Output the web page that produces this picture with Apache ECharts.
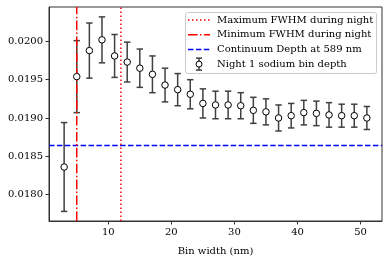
<!DOCTYPE html>
<html>
<head>
<meta charset="utf-8">
<script src="https://cdn.jsdelivr.net/npm/echarts@6/dist/echarts.min.js"></script>
<style>html,body{margin:0;padding:0;background:#fff}#c{width:389px;height:261px}</style>
</head>
<body>
<div id="c"></div>
<script>
const binWidth = [3,5,7,9,11,13,15,17,19,21,23,25,27,29,31,33,35,37,39,41,43,45,47,49,51];
const depth = [0.01836,0.01954,0.01988,0.02002,0.01981,0.01973,0.01965,0.01957,0.01943,0.01937,0.01931,0.01919,0.01917,0.01917,0.01916,0.01910,0.01908,0.01900,0.01903,0.01907,0.01906,0.01904,0.01903,0.01903,0.01900];
const depthErr = [0.00058,0.00047,0.00036,0.00030,0.00028,0.00026,0.00025,0.00024,0.00022,0.00021,0.00019,0.00019,0.00018,0.00018,0.00017,0.00017,0.00017,0.00017,0.00016,0.00016,0.00016,0.00016,0.00015,0.00015,0.00015];
const continuumDepth = 0.01864;
const minFWHM = 5;
const maxFWHM = 12;
const xRange = [0.6, 53.4];
const yRange = [0.017655, 0.020449];
const xTicks = [10,20,30,40,50];
const yTicks = [0.0180,0.0185,0.0190,0.0195,0.0200];
const legendLabels = ['Maximum FWHM during night','Minimum FWHM during night','Continuum Depth at 589 nm','Night 1 sodium bin depth'];

const FONT = 'DejaVu Serif';
const ecol = '#404040';
const chart = echarts.init(document.getElementById('c'), null, {renderer:'canvas'});

const data = binWidth.map((x,i)=>[x, depth[i], depthErr[i]]);

const lx0 = 188, lx1 = 210, ltx = 217, ly0 = 20, ldy = 14.7;
const legendGraphics = [
  {type:'rect', shape:{x:185.5,y:12.5,width:191,height:61,r:2}, style:{fill:'rgba(255,255,255,0.8)', stroke:'#cccccc', lineWidth:1}, z:100},
  {type:'line', shape:{x1:lx0,y1:ly0,x2:lx1,y2:ly0}, style:{stroke:'#ff0000', lineWidth:1.5, lineDash:[1.5,2.5]}, z:101},
  {type:'line', shape:{x1:lx0,y1:ly0+ldy,x2:lx1,y2:ly0+ldy}, style:{stroke:'#ff0000', lineWidth:1.5, lineDash:[9.6,2.4,1.5,2.4]}, z:101},
  {type:'line', shape:{x1:lx0,y1:ly0+2*ldy,x2:lx1,y2:ly0+2*ldy}, style:{stroke:'#0000ff', lineWidth:1.5, lineDash:[5.5,2.4]}, z:101},
  {type:'line', shape:{x1:199,y1:ly0+3*ldy-6,x2:199,y2:ly0+3*ldy+6}, style:{stroke:ecol, lineWidth:1.5}, z:101},
  {type:'line', shape:{x1:196,y1:ly0+3*ldy-6,x2:202,y2:ly0+3*ldy-6}, style:{stroke:ecol, lineWidth:1.5}, z:101},
  {type:'line', shape:{x1:196,y1:ly0+3*ldy+6,x2:202,y2:ly0+3*ldy+6}, style:{stroke:ecol, lineWidth:1.5}, z:101},
  {type:'circle', shape:{cx:199,cy:ly0+3*ldy,r:3}, style:{fill:'#fff', stroke:'#000', lineWidth:1}, z:102}
];
legendLabels.forEach((t,i)=>{
  legendGraphics.push({type:'text', x:ltx, y:ly0+i*ldy, style:{text:t, font:'10px "DejaVu Serif"', fill:'#000', textVerticalAlign:'middle', textAlign:'left'}, z:103});
});

chart.setOption({
  animation:false,
  backgroundColor:'#fff',
  grid:{left:49, right:7, top:7, bottom:38, show:true, borderColor:'#333', borderWidth:1, containLabel:false},
  xAxis:{
    type:'value', min:xRange[0], max:xRange[1],
    name:'Bin width (nm)', nameLocation:'middle', nameGap:25,
    nameTextStyle:{fontFamily:FONT, fontSize:10, color:'#000'},
    axisLine:{show:true, onZero:false, lineStyle:{color:'#333', width:1}},
    axisTick:{show:true, length:3.5, customValues:xTicks, lineStyle:{color:'#333'}},
    axisLabel:{customValues:xTicks, fontFamily:FONT, fontSize:10, color:'#000', margin:6},
    splitLine:{show:false}
  },
  yAxis:{
    type:'value', min:yRange[0], max:yRange[1],
    axisLine:{show:true, onZero:false, lineStyle:{color:'#333', width:1}},
    axisTick:{show:true, length:3.5, customValues:yTicks, lineStyle:{color:'#333'}},
    axisLabel:{customValues:yTicks, fontFamily:FONT, fontSize:10, color:'#000', margin:6, formatter:v=>v.toFixed(4)},
    splitLine:{show:false}
  },
  series:[
    {
      type:'custom', name:'err', data:data, z:2,
      renderItem:(params, api)=>{
        const x=api.value(0), y=api.value(1), e=api.value(2);
        const t=api.coord([x,y+e]), b=api.coord([x,y-e]);
        const c=3.2;
        const st={stroke:ecol, lineWidth:1.5};
        return {type:'group', children:[
          {type:'line', shape:{x1:t[0],y1:t[1],x2:b[0],y2:b[1]}, style:st},
          {type:'line', shape:{x1:t[0]-c,y1:t[1],x2:t[0]+c,y2:t[1]}, style:st},
          {type:'line', shape:{x1:b[0]-c,y1:b[1],x2:b[0]+c,y2:b[1]}, style:st}
        ]};
      }
    },
    {
      type:'line', name:'Continuum Depth at 589 nm', z:3, symbol:'none', silent:true,
      data:[[xRange[0], continuumDepth],[xRange[1], continuumDepth]],
      lineStyle:{color:'#0000ff', width:1.5, type:[5.5,2.4]}
    },
    {
      type:'line', name:'Minimum FWHM during night', z:3, symbol:'none', silent:true,
      data:[[minFWHM, yRange[0]],[minFWHM, yRange[1]]],
      lineStyle:{color:'#ff0000', width:1.5, type:[9.6,2.4,1.5,2.4]}
    },
    {
      type:'line', name:'Maximum FWHM during night', z:3, symbol:'none', silent:true,
      data:[[maxFWHM, yRange[0]],[maxFWHM, yRange[1]]],
      lineStyle:{color:'#ff0000', width:1.5, type:[1.5,2.5]}
    },
    {
      type:'scatter', name:'Night 1 sodium bin depth', data:data.map(d=>[d[0],d[1]]), z:5,
      symbol:'circle', symbolSize:6.5,
      itemStyle:{color:'#fff', borderColor:'#000', borderWidth:1, opacity:1}
    }
  ],
  graphic:legendGraphics
});
</script>
</body>
</html>
